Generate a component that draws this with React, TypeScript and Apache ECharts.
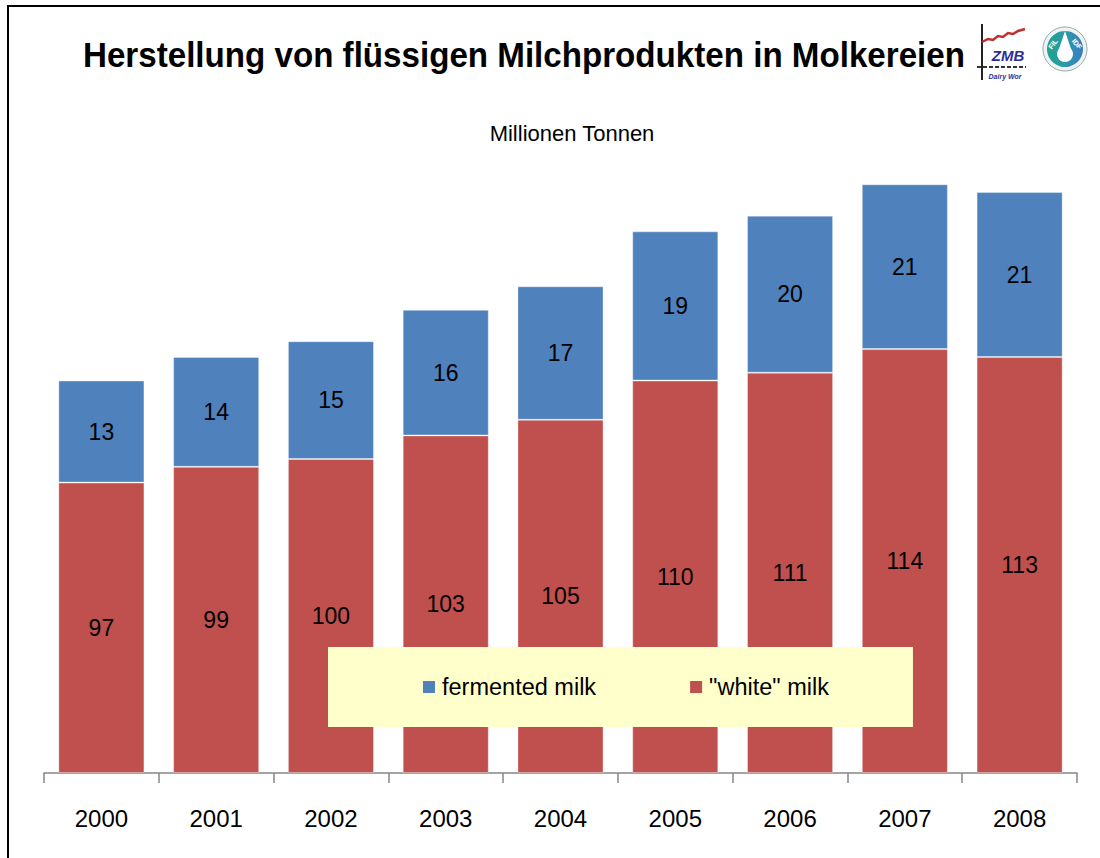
import React, { useEffect, useRef } from "react";
import * as echarts from "echarts";

const years = ["2000", "2001", "2002", "2003", "2004", "2005", "2006", "2007", "2008"];
const whiteMilk = [97, 99, 100, 103, 105, 110, 111, 114, 113];
const fermentedMilk = [13, 14, 15, 16, 17, 19, 20, 21, 21];
const seriesNames = ["fermented milk", '"white" milk'];
const titleText = "Herstellung von flüssigen Milchprodukten in Molkereien";
const subtitleText = "Millionen Tonnen";

const FONT = "'Liberation Sans', Arial, sans-serif";

export default function App() {
  const ref = useRef<HTMLDivElement>(null);

  useEffect(() => {
    if (!ref.current) return;
    const chart = echarts.init(ref.current, undefined, { renderer: "svg" });
    const labelStyle = {
      show: true,
      position: "inside",
      color: "#000",
      fontSize: 23,
      fontFamily: FONT,
    };
    chart.setOption({
      animation: false,
      backgroundColor: "#fff",
      textStyle: { fontFamily: FONT },
      grid: { left: 44, right: 23, top: 145, bottom: 85, containLabel: false },
      legend: {
        data: seriesNames,
        left: 328,
        top: 647,
        orient: "horizontal",
        backgroundColor: "#FFFFCC",
        padding: [28, 84, 28, 95],
        itemGap: 94,
        itemWidth: 12,
        itemHeight: 12,
        icon: "rect",
        itemStyle: { borderWidth: 0 },
        textStyle: { fontSize: 23.5, color: "#000", fontFamily: FONT, padding: [0, 0, 0, 2] },
      },
      xAxis: {
        type: "category",
        data: years,
        boundaryGap: true,
        axisLine: { show: true, lineStyle: { color: "#868686", width: 1.5 } },
        axisTick: { show: true, length: 10, alignWithLabel: false, lineStyle: { color: "#868686", width: 1.5 } },
        axisLabel: { color: "#000", fontSize: 24, fontFamily: FONT, margin: 33 },
      },
      yAxis: {
        type: "value",
        min: 60,
        max: 140,
        startValue: 60,
        show: false,
        splitLine: { show: false },
      },
      series: [
        {
          name: seriesNames[1],
          type: "bar",
          stack: "total",
          data: whiteMilk,
          barWidth: "75%",
          itemStyle: { color: "#C0504D", borderColor: "rgba(255,255,255,0.35)", borderWidth: 1 },
          label: labelStyle,
        },
        {
          name: seriesNames[0],
          type: "bar",
          stack: "total",
          data: fermentedMilk,
          barWidth: "75%",
          itemStyle: { color: "#4F81BD", borderColor: "rgba(255,255,255,0.35)", borderWidth: 1 },
          label: labelStyle,
        },
      ],
      graphic: [
        {
          type: "rect",
          silent: true,
          shape: { x: 8, y: 6, width: 1200, height: 1000 },
          style: { fill: "none", stroke: "#000", lineWidth: 2 },
        },
        {
          type: "text",
          x: 83,
          y: 55,
          scaleX: 0.947,
          style: {
            text: titleText,
            font: `bold 35px ${FONT}`,
            fill: "#000",
            textAlign: "left",
            textVerticalAlign: "middle",
          },
        },
        {
          type: "text",
          x: 572,
          y: 133,
          style: {
            text: subtitleText,
            font: `22px ${FONT}`,
            fill: "#000",
            textAlign: "center",
            textVerticalAlign: "middle",
          },
        },
        // ZMB logo
        {
          type: "group",
          children: [
            { type: "line", shape: { x1: 982, y1: 24, x2: 982, y2: 80 }, style: { stroke: "#222", lineWidth: 2 } },
            { type: "line", shape: { x1: 977, y1: 67, x2: 1026, y2: 67 }, style: { stroke: "#333", lineWidth: 2, lineDash: [4, 2] } },
            {
              type: "polyline",
              shape: { points: [[982, 42], [988, 39], [993, 40], [998, 36], [1003, 37], [1008, 33], [1013, 34], [1018, 31], [1025, 29]] },
              style: { stroke: "#C0302D", lineWidth: 2.5, fill: "none" },
            },
            {
              type: "text",
              x: 1008,
              y: 55,
              style: { text: "ZMB", font: `italic bold 15px ${FONT}`, fill: "#2B2F9E", textAlign: "center", textVerticalAlign: "middle" },
            },
            {
              type: "text",
              x: 1005,
              y: 76,
              style: { text: "Dairy Wor", font: `italic bold 7px ${FONT}`, fill: "#2B2F9E", textAlign: "center", textVerticalAlign: "middle" },
            },
          ],
        },
        // FIL-IDF logo
        {
          type: "group",
          children: [
            { type: "circle", shape: { cx: 1065, cy: 49, r: 22 }, style: { fill: "#EEF2F2", stroke: "#9AA", lineWidth: 1 } },
            {
              type: "circle",
              shape: { cx: 1065, cy: 49, r: 18 },
              style: {
                fill: new echarts.graphic.LinearGradient(0, 0, 1, 0, [
                  { offset: 0, color: "#1FA38C" },
                  { offset: 0.5, color: "#2A9AA8" },
                  { offset: 1, color: "#3B7CC4" },
                ]),
              },
            },
            { type: "polygon", shape: { points: [[1065, 31], [1058, 52], [1072, 52]] }, style: { fill: "#fff" } },
            { type: "circle", shape: { cx: 1065, cy: 54, r: 8 }, style: { fill: "#fff" } },
            {
              type: "text",
              x: 1053,
              y: 44,
              rotation: 0.9,
              style: { text: "FIL", font: `bold 7px ${FONT}`, fill: "#fff", textAlign: "center", textVerticalAlign: "middle" },
            },
            {
              type: "text",
              x: 1077,
              y: 44,
              rotation: -0.9,
              style: { text: "IDF", font: `bold 7px ${FONT}`, fill: "#fff", textAlign: "center", textVerticalAlign: "middle" },
            },
          ],
        },
      ],
    });
    return () => chart.dispose();
  }, []);

  return (
    <div
      ref={ref}
      style={{ position: "absolute", left: 0, top: 0, width: 1100, height: 858 }}
    />
  );
}
